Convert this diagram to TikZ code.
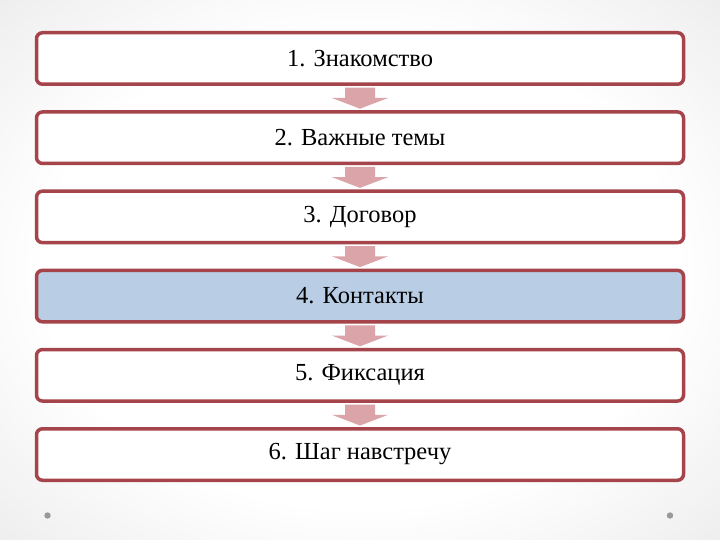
\documentclass[tikz,border=0pt]{standalone}
\usepackage{fontspec}
\setmainfont{Liberation Serif}
\usetikzlibrary{calc}
\definecolor{bordred}{RGB}{165,68,74}
\definecolor{arrowpink}{RGB}{219,164,168}
\definecolor{stepblue}{RGB}{185,205,229}
\definecolor{bggray}{RGB}{222,222,222}
\definecolor{bgcorner}{RGB}{212,212,212}
\pgfdeclareradialshading{bgshade}{\pgfpoint{0bp}{0bp}}{color(0bp)=(white); color(22bp)=(white); color(48bp)=(bggray); color(70bp)=(bgcorner)}
\begin{document}
\begin{tikzpicture}[x=1pt,y=-1pt,
  stepbox/.style={draw=bordred, line width=3.5pt, rounded corners=6pt, fill=white,
    minimum width=647pt, minimum height=51.5pt, inner sep=0pt,
    font=\fontsize{24.5}{28}\selectfont, text=black},
  downarrow/.style={fill=arrowpink, draw=none},
  dotmark/.style={fill=gray!80, draw=none}]
\useasboundingbox (0,0) rectangle (720,540);
\shade[shading=bgshade] (0,0) rectangle (720,540);
\node[stepbox] (b1) at (360,58.5) {\raisebox{-2pt}{1. Знакомство}};
\node[stepbox] (b2) at (360,137.7) {\raisebox{-2pt}{2. Важные темы}};
\node[stepbox] (b3) at (360,216.9) {\raisebox{-2pt}{3. Договор}};
\node[stepbox, fill=stepblue] (b4) at (360,296.1) {\raisebox{-2pt}{4. Контакты}};
\node[stepbox] (b5) at (360,375.3) {\raisebox{-2pt}{5. Фиксация}};
\node[stepbox] (b6) at (360,454.5) {\raisebox{-2pt}{6. Шаг навстречу}};
\foreach \a/\b in {b1/b2,b2/b3,b3/b4,b4/b5,b5/b6}{
  \fill[downarrow] ($(\a.south)+(-15,1.75)$) -- ($(\a.south)+(15,1.75)$)
    -- ($(\a.south)+(15,12)$) -- ($(\a.south)+(28,12)$)
    -- ($(\b.north)+(0,-1.5)$) -- ($(\a.south)+(-28,12)$)
    -- ($(\a.south)+(-15,12)$) -- cycle;
}
\coordinate (dl) at (47.5,515.5);
\coordinate (dr) at (670,515.5);
\fill[dotmark] (dl) circle (3.2pt);
\fill[dotmark] (dr) circle (3.2pt);
\end{tikzpicture}
\end{document}
